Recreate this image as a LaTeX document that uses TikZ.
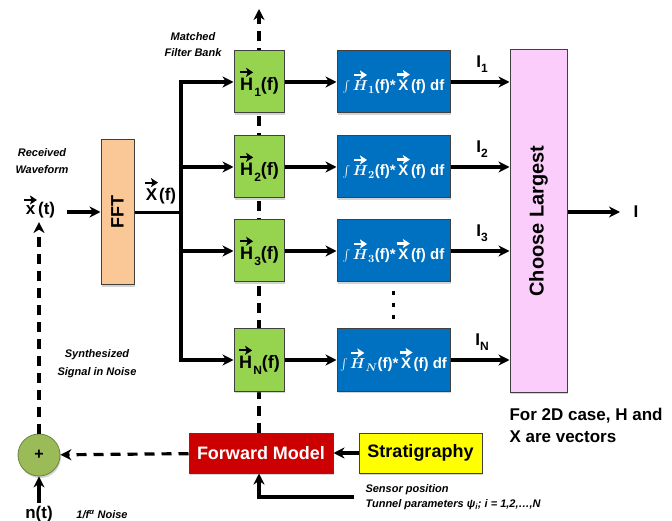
\documentclass[tikz,border=0pt]{standalone}
\usepackage{fontspec}
\setmainfont{Liberation Sans}
\usetikzlibrary{arrows.meta,shadows,backgrounds}
\definecolor{fftc}{RGB}{250,200,150}
\definecolor{hgreen}{RGB}{150,212,80}
\definecolor{bblue}{RGB}{0,112,192}
\definecolor{lpink}{RGB}{250,205,250}
\definecolor{fmred}{RGB}{204,0,0}
\definecolor{syell}{RGB}{255,255,0}
\definecolor{olivec}{RGB}{155,187,89}
\newcommand\varr[2][black]{\leavevmode\vbox{\offinterlineskip\halign{\hfil##\hfil\cr
  \tikz[x=1pt,y=1pt]\draw[#1,line width=2.2pt,-{Stealth[length=7pt,width=9pt,inset=1.5pt]}] (0,0)--(13,0);\cr
  \noalign{\kern1.5pt}#2\cr}}}
\newcommand\mysub[1]{\raisebox{-0.3em}{\fontsize{12}{12}\selectfont #1}}
\begin{document}
\begin{tikzpicture}[x=1pt,y=-1pt,
  box/.style={draw=black!75, line width=1pt, inner sep=0pt,
    drop shadow={shadow xshift=1pt,shadow yshift=-2pt,opacity=0.35}},
  hbox/.style={box, fill=hgreen, minimum width=50pt, minimum height=62pt,
    font=\fontsize{18}{20}\selectfont\bfseries},
  bbox/.style={box, fill=bblue, text=white, minimum width=113pt, minimum height=62pt,
    font=\fontsize{15}{18}\selectfont\bfseries\boldmath},
  conn/.style={line width=3.2pt, -{Stealth[length=11pt,width=11pt,inset=3.5pt]}},
  dconn/.style={conn, dash pattern=on 10pt off 7pt},
  plain/.style={line width=3.2pt},
  note/.style={font=\fontsize{11}{17}\selectfont\bfseries\itshape, align=center},
  lbl/.style={font=\fontsize{17}{20}\selectfont\bfseries}
]
\useasboundingbox (0,0) rectangle (672,521);

% FFT
\node[box, fill=fftc, minimum width=33pt, minimum height=145pt] (fft) at (117.5,212.5) {};
\node[rotate=90, font=\fontsize{18}{20}\selectfont\bfseries] (fftl) at (fft.center) {FFT};

% matched filters
\foreach \n/\y in {1/82, 2/167, 3/251, N/360}{
  \node[hbox] (h\n) at (259,\y) {\varr{H}\mysub{\n}(f)};
  \node[bbox] (b\n) at (393.5,\y) {\scalebox{1.15}{$\int$}\,\varr[white]{$H$}$_{\n}$(f)*\varr[white]{X}(f) df};
  \node[lbl] (i\n) at (482,\y-18) {I\mysub{\n}};
}

% choose largest
\node[box, fill=lpink, minimum width=57pt, minimum height=342pt] (cl) at (538.5,221) {};
\node[rotate=90, font=\fontsize{20}{22}\selectfont\bfseries] (cll) at (cl.center) {Choose Largest};

% forward model, stratigraphy, sum
\node[box, fill=fmred, text=white, minimum width=144pt, minimum height=40pt,
  font=\fontsize{18}{20}\selectfont\bfseries] (fm) at (261,453) {Forward Model};
\node[box, fill=syell, minimum width=123pt, minimum height=40pt,
  font=\fontsize{18}{20}\selectfont\bfseries] (st) at (420.5,453) {Stratigraphy};
\node[circle, fill=olivec, draw=olivec!70!black, line width=0.8pt, minimum size=42pt, inner sep=0pt,
  drop shadow={shadow xshift=1pt,shadow yshift=-2pt,opacity=0.35},
  font=\fontsize{16}{16}\selectfont\bfseries] (sum) at (39,455) {+};

% labels
\node[lbl] (xt) at (39,207) {\varr{x}(t)};
\node[lbl] (xf) at (160,191) {\varr{X}(f)};
\node[lbl] (nt) at (39,514) {n(t)};
\node[lbl] (out) at (636,212) {I};
\node[note] (rw) at (42,161) {Received\\Waveform};
\node[note, font=\fontsize{11}{16}\selectfont\bfseries\itshape] (mfb) at (193,45) {Matched\\Filter Bank};
\node[note, font=\fontsize{11}{18}\selectfont\bfseries\itshape] (ssn) at (97,364) {Synthesized\\Signal in Noise};
\node[note] (noise) at (102,515) {1/f\textsuperscript{α} Noise};
\node[note, align=left, anchor=west, font=\fontsize{11}{15}\selectfont\bfseries\itshape] (sens) at (362,497.5)
  {Sensor position\\Tunnel parameters ψ\textsubscript{i}; i = 1,2,…,N};
\node[align=left, anchor=north west, font=\fontsize{17}{22}\selectfont\bfseries] (note2d) at (506,405)
  {For 2D case, H and\\X are vectors};

% coordinates
\coordinate (bt) at (181,82);
\coordinate (xin) at (67,212);
\coordinate (dtop) at (259,9);
\coordinate (sensin) at (354,497);
\coordinate (clout) at (620,212);

% connectors
\begin{pgfonlayer}{background}
  \draw[dconn] (fm.north -| h1) -- (dtop);
\end{pgfonlayer}
\draw[conn] (xin) -- (fft.west |- xin);
\draw[plain] (fft.east) -- (fft.east -| bt);
\draw[conn] (fft.east -| bt) |- (h1.west);
\draw[conn] (fft.east -| bt) |- (hN.west);
\draw[conn] (bt |- h2) -- (h2.west);
\draw[conn] (bt |- h3) -- (h3.west);
\foreach \n in {1,2,3,N}{
  \draw[conn] (h\n.east) -- (h\n.east -| b\n.west);
  \draw[conn] (b\n.east) -- (b\n.east -| cl.west);
}
\draw[conn] (cl.east |- clout) -- (clout);
\draw[conn] (st) -- (fm);
\draw[dconn] (fm) -- (sum);
\draw[dconn] (sum) -- (xt);
\draw[conn] (nt) -- (sum);
\draw[conn] (sensin) -| (fm.south -| h1);

% vertical dots
\foreach \yy in {293,305,317}
  \fill (393,\yy) +(-1.5,-2) rectangle +(1.5,2);
\end{tikzpicture}
\end{document}
